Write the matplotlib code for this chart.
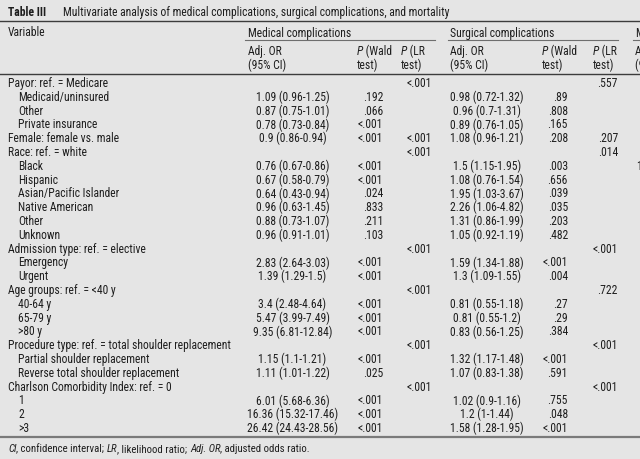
import matplotlib
matplotlib.use("Agg")
import matplotlib.pyplot as plt
from matplotlib import font_manager

# table contents, row by row
variables = ["Payor: ref. = Medicare", "Medicaid/uninsured", "Other", "Private insurance",
             "Female: female vs. male", "Race: ref. = white", "Black", "Hispanic",
             "Asian/Pacific Islander", "Native American", "Other", "Unknown",
             "Admission type: ref. = elective", "Emergency", "Urgent",
             "Age groups: ref. = <40 y", "40-64 y", "65-79 y", ">80 y",
             "Procedure type: ref. = total shoulder replacement", "Partial shoulder replacement",
             "Reverse total shoulder replacement", "Charlson Comorbidity Index: ref. = 0",
             "1", "2", ">3"]
indented = [0, 1, 1, 1, 0, 0, 1, 1, 1, 1, 1, 1, 0, 1, 1, 0, 1, 1, 1, 0, 1, 1, 0, 1, 1, 1]

med_or = ["", "1.09 (0.96-1.25)", "0.87 (0.75-1.01)", "0.78 (0.73-0.84)", "0.9 (0.86-0.94)", "",
          "0.76 (0.67-0.86)", "0.67 (0.58-0.79)", "0.64 (0.43-0.94)", "0.96 (0.63-1.45)",
          "0.88 (0.73-1.07)", "0.96 (0.91-1.01)", "", "2.83 (2.64-3.03)", "1.39 (1.29-1.5)", "",
          "3.4 (2.48-4.64)", "5.47 (3.99-7.49)", "9.35 (6.81-12.84)", "", "1.15 (1.1-1.21)",
          "1.11 (1.01-1.22)", "", "6.01 (5.68-6.36)", "16.36 (15.32-17.46)", "26.42 (24.43-28.56)"]
med_wald = ["", ".192", ".066", "<.001", "<.001", "", "<.001", "<.001", ".024", ".833", ".211",
            ".103", "", "<.001", "<.001", "", "<.001", "<.001", "<.001", "", "<.001", ".025", "",
            "<.001", "<.001", "<.001"]
med_lr = ["<.001", "", "", "", "<.001", "<.001", "", "", "", "", "", "", "<.001", "", "",
          "<.001", "", "", "", "<.001", "", "", "<.001", "", "", ""]

surg_or = ["", "0.98 (0.72-1.32)", "0.96 (0.7-1.31)", "0.89 (0.76-1.05)", "1.08 (0.96-1.21)", "",
           "1.5 (1.15-1.95)", "1.08 (0.76-1.54)", "1.95 (1.03-3.67)", "2.26 (1.06-4.82)",
           "1.31 (0.86-1.99)", "1.05 (0.92-1.19)", "", "1.59 (1.34-1.88)", "1.3 (1.09-1.55)", "",
           "0.81 (0.55-1.18)", "0.81 (0.55-1.2)", "0.83 (0.56-1.25)", "", "1.32 (1.17-1.48)",
           "1.07 (0.83-1.38)", "", "1.02 (0.9-1.16)", "1.2 (1-1.44)", "1.58 (1.28-1.95)"]
surg_wald = ["", ".89", ".808", ".165", ".208", "", ".003", ".656", ".039", ".035", ".203",
             ".482", "", "<.001", ".004", "", ".27", ".29", ".384", "", "<.001", ".591", "",
             ".755", ".048", "<.001"]
surg_lr = [".557", "", "", "", ".207", ".014", "", "", "", "", "", "", "<.001", "", "",
           ".722", "", "", "", "<.001", "", "", "<.001", "", "", ""]

# only the first glyph of the mortality column survives the crop
mort_or = ["", "", "", "", "", "", "1", "", "", "", "", "", "", "", "", "", "", "", "", "", "",
           "", "", "", "", ""]

title_bold = "Table III"
title_rest = "Multivariate analysis of medical complications, surgical complications, and mortality"

bg = "#e5e5e5"
ink = "#1e1e1e"

# pick a narrow face if there is one
main_font = "DejaVu Sans"
for cand in ["Liberation Sans Narrow", "DejaVu Sans Condensed", "Roboto Condensed",
             "Open Sans Condensed", "Liberation Sans"]:
    try:
        font_manager.findfont(font_manager.FontProperties(family=cand), fallback_to_default=False)
        main_font = cand
        break
    except ValueError:
        pass
fam = [main_font, "DejaVu Sans"]
fs = 8.0

fig = plt.figure(figsize=(6.4, 4.59), dpi=100)
fig.patch.set_facecolor(bg)
ax = fig.add_axes([0, 0, 1, 1])
ax.set_xlim(0, 640)
ax.set_ylim(459, 0)
ax.axis("off")
renderer = fig.canvas.get_renderer()

# scale the size so the title spans what it spans in the source (about 388 px)
probe = ax.text(0, 0, title_rest, family=fam, fontsize=fs)
w = probe.get_window_extent(renderer).width
probe.remove()
fs = fs * 388.0 / w
dy_txt = 1.5  # nudge text down a little to sit where the source has it


def txt(x, y, s, ha="left", **kw):
    kw.setdefault("family", fam)
    kw.setdefault("fontsize", fs)
    kw.setdefault("color", ink)
    return ax.text(x, y + dy_txt, s, ha=ha, va="center", **kw)


def run(x, y, pieces, size=None):
    # draw several styled pieces one after the other on a line
    inv = ax.transData.inverted()
    for s, style in pieces:
        t = txt(x, y, s, fontstyle=style, fontsize=size or fs)
        bb = t.get_window_extent(renderer)
        x = inv.transform((bb.x1, bb.y0))[0]


# title
txt(8, 11, title_bold, fontweight="bold")
txt(63, 11, title_rest)
ax.plot([0, 640], [20.5, 20.5], color="#3c3c3c", lw=1.0)

# group headers
txt(8, 31.5, "Variable")
txt(248, 31.5, "Medical complications")
txt(450, 31.5, "Surgical complications")
txt(635, 31.5, "Mortality")
for x0, x1 in [(245, 435), (448, 618), (633, 640)]:
    ax.plot([x0, x1], [40, 40], color="#6e6e6e", lw=0.8)

# column headers
for x in [248, 450, 635]:
    txt(x, 50, "Adj. OR")
    txt(x, 64, "(95% CI)")
for x, word in [(357, " (Wald"), (401, " (LR"), (542, " (Wald"), (593, " (LR")]:
    run(x, 50, [("P", "italic"), (word, "normal")])
    txt(x, 64, "test)")
ax.plot([0, 640], [73.5, 73.5], color="#3c3c3c", lw=1.0)

# body
y0, dy = 82, 13.8
for i, name in enumerate(variables):
    y = y0 + i * dy
    txt(18 if indented[i] else 8, y, name)
    txt(292.5, y, med_or[i], ha="center")
    txt(383, y, med_wald[i], ha="right")
    txt(432, y, med_lr[i], ha="right")
    txt(487, y, surg_or[i], ha="center")
    txt(568, y, surg_wald[i], ha="right")
    txt(618, y, surg_lr[i], ha="right")
    txt(636, y, mort_or[i])

ax.plot([0, 640], [436.5, 436.5], color="#7a7a7a", lw=1.6)

# footnote
run(8, 447.5, [("CI", "italic"), (", confidence interval; ", "normal"),
               ("LR", "italic"), (", likelihood ratio; ", "normal"),
               ("Adj. OR", "italic"), (", adjusted odds ratio.", "normal")], size=fs * 0.93)

fig.savefig("out.png", dpi=100, facecolor=bg)
